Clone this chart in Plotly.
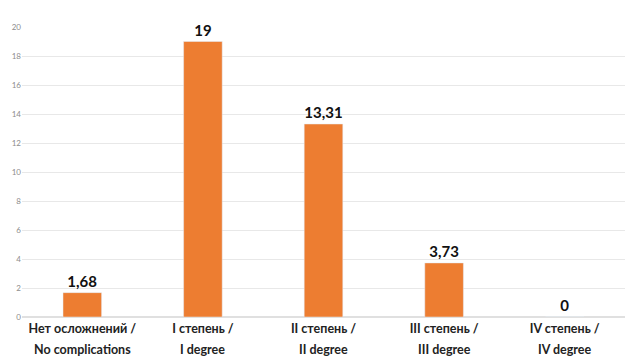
import plotly.graph_objects as go

cat_line1 = ["Нет осложнений /", "I степень /", "II степень /", "III степень /", "IV степень /"]
cat_line2 = ["No complications", "I degree", "II degree", "III degree", "IV degree"]
values = [1.68, 19, 13.31, 3.73, 0]
y_ticks = [0, 2, 4, 6, 8, 10, 12, 14, 16, 18, 20]

label_font = dict(family="Lato", size=12.5, color="#222222", weight="bold")

fig = go.Figure(go.Bar(
    x=cat_line1, y=values,
    marker_color="#ED7D31",
    texttemplate="%{y}", textposition="outside",
    textfont=dict(family="Lato", size=15, color="#111111", weight="bold"),
    cliponaxis=False, width=0.32,
))
for c1, c2 in zip(cat_line1, cat_line2):
    fig.add_annotation(x=c1, xref="x", y=0, yref="paper", text=c2, showarrow=False,
                       yanchor="middle", yshift=-32, font=label_font)
fig.update_layout(
    width=640, height=362,
    margin=dict(l=14, r=23, t=19, b=53, autoexpand=False),
    paper_bgcolor="white", plot_bgcolor="white",
    separators=", ",
    showlegend=False,
    xaxis=dict(tickfont=label_font, showgrid=False, ticks="", showline=False,
               automargin=False, ticklabelstandoff=2),
    yaxis=dict(range=[0, 20], tickvals=y_ticks, showgrid=True, gridcolor="#e8e8e8",
               gridwidth=1, zeroline=True, zerolinecolor="#e0e0e0", automargin=False,
               tickfont=dict(family="Lato", size=8, color="#8c8c8c"), ticks=""),
)
fig.write_html("out.html")
